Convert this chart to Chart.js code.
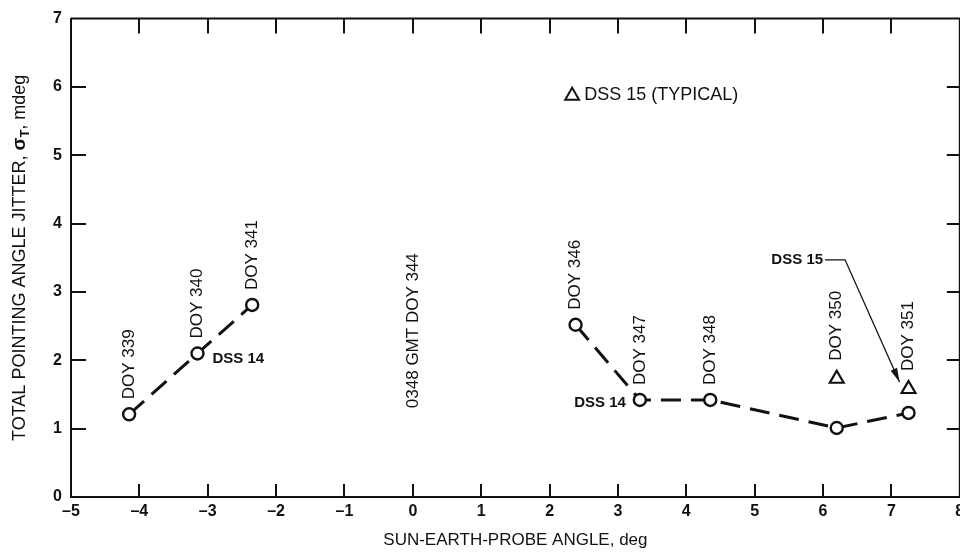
<!DOCTYPE html>
<html lang="en">

<head>
  <meta charset="UTF-8">
  <meta name="viewport" content="width=device-width, initial-scale=1.0">
  <title>Total pointing angle jitter</title>
  <style>
    html, body { margin: 0; padding: 0; background: #fff; overflow: hidden; }
    canvas { display: block; }
  </style>
</head>

<body>

  <canvas id="jitterChart" width="970" height="556"></canvas>

  <script src="https://cdn.jsdelivr.net/npm/chart.js@4.4.1/dist/chart.umd.min.js"></script>

  <script>
    // DSS 14, before conjunction
    const preAngle = [-4.15, -3.15, -2.35];
    const preJitter = [1.21, 2.1, 2.81];
    const preDoy = ['DOY 339', 'DOY 340', 'DOY 341'];

    // DSS 14, after conjunction
    const postAngle = [2.38, 3.32, 4.35, 6.2, 7.25];
    const postJitter = [2.52, 1.42, 1.42, 1.01, 1.23];
    const postDoy = ['DOY 346', 'DOY 347', 'DOY 348', 'DOY 350', 'DOY 351'];

    // DSS 15 (triangles)
    const dss15Angle = [6.2, 7.25];
    const dss15Jitter = [1.73, 1.58];

    // axis ticks
    const xTicks = [-5, -4, -3, -2, -1, 0, 1, 2, 3, 4, 5, 6, 7, 8];
    const yTicks = [0, 1, 2, 3, 4, 5, 6, 7];

    const conjunctionNote = '0348 GMT DOY 344';
    const legendText = 'DSS 15 (TYPICAL)';

    const FONT = '"Liberation Sans", Arial, Helvetica, sans-serif';
    const INK = '#111';

    // inner tick marks + top/right frame
    const frame = {
      id: 'frame',
      beforeDatasetsDraw(chart) {
        const { ctx, chartArea: a, scales: { x, y } } = chart;
        ctx.save();
        ctx.strokeStyle = INK;
        ctx.lineWidth = 2;
        ctx.beginPath();
        ctx.moveTo(a.left, a.top);
        ctx.lineTo(a.right, a.top);
        ctx.lineTo(a.right, a.bottom);
        xTicks.slice(1, -1).forEach(v => {
          const px = Math.round(x.getPixelForValue(v));
          ctx.moveTo(px, a.bottom); ctx.lineTo(px, a.bottom - 13);
          ctx.moveTo(px, a.top); ctx.lineTo(px, a.top + 15);
        });
        yTicks.slice(1, -1).forEach(v => {
          const py = Math.round(y.getPixelForValue(v));
          ctx.moveTo(a.left, py); ctx.lineTo(a.left + 15, py);
          ctx.moveTo(a.right, py); ctx.lineTo(a.right - 13, py);
        });
        ctx.stroke();
        ctx.restore();
      }
    };

    // text that reads bottom to top, starting at (px, py)
    function upright(ctx, text, px, py) {
      ctx.save();
      ctx.translate(px, py);
      ctx.rotate(-Math.PI / 2);
      ctx.textAlign = 'left';
      ctx.textBaseline = 'middle';
      ctx.fillText(text, 0, 0);
      ctx.restore();
    }

    function triangle(ctx, px, py, r) {
      ctx.beginPath();
      ctx.moveTo(px, py - r);
      ctx.lineTo(px + r * 0.866, py + r / 2);
      ctx.lineTo(px - r * 0.866, py + r / 2);
      ctx.closePath();
      ctx.fillStyle = '#fff';
      ctx.fill();
      ctx.stroke();
    }

    const notes = {
      id: 'notes',
      afterDatasetsDraw(chart) {
        const { ctx, chartArea: a, scales: { x, y } } = chart;
        ctx.save();
        ctx.fillStyle = INK;
        ctx.strokeStyle = INK;

        // DOY labels above the top marker at each angle
        ctx.font = '17px ' + FONT;
        preAngle.forEach((v, i) => {
          upright(ctx, preDoy[i], x.getPixelForValue(v), y.getPixelForValue(preJitter[i]) - 15);
        });
        postAngle.forEach((v, i) => {
          const k = dss15Angle.indexOf(v);
          const top = k >= 0 ? y.getPixelForValue(dss15Jitter[k]) - 18 : y.getPixelForValue(postJitter[i]) - 15;
          upright(ctx, postDoy[i], x.getPixelForValue(v), top);
        });
        upright(ctx, conjunctionNote, x.getPixelForValue(0), y.getPixelForValue(1.3));

        // station labels
        ctx.font = 'bold 15px ' + FONT;
        ctx.textBaseline = 'middle';
        ctx.textAlign = 'left';
        ctx.fillText('DSS 14', x.getPixelForValue(preAngle[1]) + 15, y.getPixelForValue(preJitter[1]) + 5);
        ctx.textAlign = 'right';
        ctx.fillText('DSS 14', x.getPixelForValue(postAngle[1]) - 14, y.getPixelForValue(postJitter[1]) + 3);

        // DSS 15 callout with arrow to the DOY 351 triangle
        const lx = x.getPixelForValue(6.0), ly = y.getPixelForValue(3.47);
        ctx.fillText('DSS 15', lx, ly);
        const tx = x.getPixelForValue(dss15Angle[1]) - 9, ty = y.getPixelForValue(dss15Jitter[1]) - 7;
        const bx = lx + 22;
        ctx.lineWidth = 1.3;
        ctx.beginPath();
        ctx.moveTo(lx + 2, ly);
        ctx.lineTo(bx, ly);
        ctx.lineTo(tx, ty);
        ctx.stroke();
        const ang = Math.atan2(ty - ly, tx - bx);
        ctx.beginPath();
        ctx.moveTo(tx, ty);
        ctx.lineTo(tx - 14 * Math.cos(ang) + 3.5 * Math.sin(ang), ty - 14 * Math.sin(ang) - 3.5 * Math.cos(ang));
        ctx.lineTo(tx - 14 * Math.cos(ang) - 3.5 * Math.sin(ang), ty - 14 * Math.sin(ang) + 3.5 * Math.cos(ang));
        ctx.closePath();
        ctx.fill();

        // legend: triangle + text
        const gx = x.getPixelForValue(2.33), gy = y.getPixelForValue(5.87);
        ctx.lineWidth = 2;
        triangle(ctx, gx, gy, 8);
        ctx.fillStyle = INK;
        ctx.font = '18px ' + FONT;
        ctx.textAlign = 'left';
        ctx.fillText(legendText, gx + 12, gy - 1);

        // y axis title with subscript T
        const parts = [
          ['TOTAL POINTING ANGLE JITTER, ', '18px ' + FONT, 0],
          ['\u03c3', 'bold 19px ' + FONT, 0],
          ['T', 'bold 13px ' + FONT, 5],
          [', mdeg', '18px ' + FONT, 0]
        ];
        let w = 0;
        parts.forEach(p => { ctx.font = p[1]; w += ctx.measureText(p[0]).width; });
        ctx.translate(20, (a.top + a.bottom) / 2);
        ctx.rotate(-Math.PI / 2);
        ctx.textAlign = 'left';
        ctx.textBaseline = 'middle';
        let cx = -w / 2;
        parts.forEach(p => {
          ctx.font = p[1];
          ctx.fillText(p[0], cx, p[2]);
          cx += ctx.measureText(p[0]).width;
        });
        ctx.restore();
      }
    };

    const ctx = document.getElementById('jitterChart').getContext('2d');
    new Chart(ctx, {
      type: 'scatter',
      data: {
        datasets: [{
          label: 'DSS 14 pre',
          data: preAngle.map((v, i) => ({ x: v, y: preJitter[i] })),
          showLine: true,
          borderColor: INK,
          borderWidth: 3,
          borderDash: [20, 10],
          pointStyle: 'circle',
          pointRadius: 6,
          pointBorderWidth: 2.4,
          pointBackgroundColor: '#fff',
          pointBorderColor: INK
        }, {
          label: 'DSS 14 post',
          data: postAngle.map((v, i) => ({ x: v, y: postJitter[i] })),
          showLine: true,
          borderColor: INK,
          borderWidth: 3,
          borderDash: [20, 10],
          pointStyle: 'circle',
          pointRadius: 6,
          pointBorderWidth: 2.4,
          pointBackgroundColor: '#fff',
          pointBorderColor: INK
        }, {
          label: 'DSS 15',
          data: dss15Angle.map((v, i) => ({ x: v, y: dss15Jitter[i] })),
          showLine: false,
          pointStyle: 'triangle',
          pointRadius: 8,
          pointBorderWidth: 2.2,
          pointBackgroundColor: '#fff',
          pointBorderColor: INK
        }]
      },
      options: {
        responsive: false,
        animation: false,
        devicePixelRatio: 1,
        layout: { padding: { top: 13, right: 6, left: 0, bottom: 0 } },
        plugins: { legend: { display: false }, tooltip: { enabled: false } },
        scales: {
          x: {
            type: 'linear',
            min: -5,
            max: 8,
            afterBuildTicks: s => { s.ticks = xTicks.map(v => ({ value: v })); },
            afterFit: s => { s.height = 59; },
            grid: { display: false, drawTicks: false },
            border: { display: true, color: INK, width: 2 },
            ticks: {
              padding: 5,
              color: INK,
              font: { family: FONT, size: 16, weight: 'bold' },
              callback: v => v < 0 ? '\u2013' + Math.abs(v) : String(v)
            },
            title: {
              display: true,
              text: 'SUN-EARTH-PROBE ANGLE, deg',
              color: INK,
              font: { family: FONT, size: 17 },
              padding: { top: 0, bottom: 5 }
            }
          },
          y: {
            type: 'linear',
            min: 0,
            max: 7,
            afterBuildTicks: s => { s.ticks = yTicks.map(v => ({ value: v })); },
            afterFit: s => { s.width = 71; },
            grid: { display: false, drawTicks: false },
            border: { display: true, color: INK, width: 2 },
            ticks: {
              padding: 9,
              color: INK,
              font: { family: FONT, size: 16, weight: 'bold' }
            }
          }
        }
      },
      plugins: [frame, notes]
    });
  </script>

</body>

</html>
